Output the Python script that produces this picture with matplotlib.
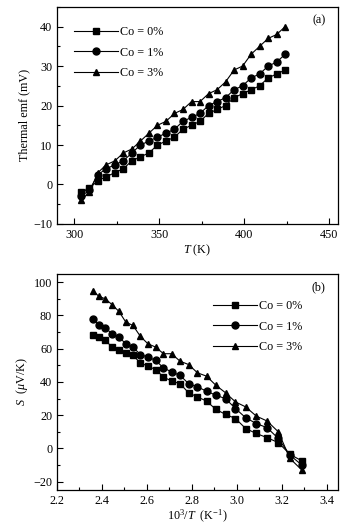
import matplotlib
matplotlib.use("Agg")
import matplotlib.pyplot as plt
from matplotlib.ticker import MultipleLocator

plt.rcParams['font.family'] = ['Liberation Serif', 'DejaVu Serif']
plt.rcParams['mathtext.fontset'] = 'custom'
plt.rcParams['mathtext.rm'] = 'Liberation Serif'
plt.rcParams['mathtext.it'] = 'Liberation Serif:italic'

# Temperatures (K)
T = [304, 309, 314, 319, 324, 329, 334, 339, 344, 349, 354, 359, 364,
     369, 374, 379, 384, 389, 394, 399, 404, 409, 414, 419, 424]

# (a) Thermal emf (mV)
emf_co0 = [-2, -1, 1, 2, 3, 4, 6, 7, 8, 10, 11, 12, 14, 15, 16, 18, 19, 20,
           22, 23, 24, 25, 27, 28, 29]
emf_co1 = [-3, -1.5, 2.5, 4, 5, 6, 8, 10, 11, 12, 13, 14, 16, 17, 18, 20, 21,
           22, 24, 25, 27, 28, 30, 31, 33]
emf_co3 = [-4, -2, 3, 5, 6, 8, 9, 11, 13, 15, 16, 18, 19, 21, 21, 23, 24, 26,
           29, 30, 33, 35, 37, 38, 40]

# (b) Seebeck coefficient S (uV/K), ordered from T=424 K down to T=304 K
T_desc = T[::-1]
S_co0 = [68, 67, 65, 61, 59.5, 57.5, 56, 51.5, 49.5, 47.5, 43, 40.5, 39, 33.5,
         31, 28.5, 23.5, 20.5, 18, 12, 9, 6.5, 3.5, -3.5, -7.5]
S_co1 = [78, 74.5, 72.5, 69, 67, 63, 61, 56.5, 55, 53, 48.5, 46, 44, 39, 37,
         34.5, 32, 30, 24, 18.5, 15, 12.5, 6, -4, -10]
S_co3 = [95, 91.5, 90, 86.5, 82.5, 76, 74, 67.5, 63, 61, 57, 57, 52.5, 50.5,
         45.5, 43.5, 38, 33.5, 28, 25, 19.5, 16.5, 10, -6, -13]

labels = ['Co = 0%', 'Co = 1%', 'Co = 3%']
markers = ['s', 'o', '^']

fig = plt.figure(figsize=(3.63, 5.27), dpi=100)
ax1 = fig.add_axes([0.157, 0.575, 0.774, 0.412])
ax2 = fig.add_axes([0.157, 0.0702, 0.774, 0.410])

fs = 8.7
for ys, m, lab in zip([emf_co0, emf_co1, emf_co3], markers, labels):
    ax1.plot(T, ys, color='black', marker=m, ms=5, lw=0.8, label=lab)

invT = [1000.0 / t for t in T_desc]
for ys, m, lab in zip([S_co0, S_co1, S_co3], markers, labels):
    ax2.plot(invT, ys, color='black', marker=m, ms=5, lw=0.8, label=lab)

ax1.set_xlim(290, 455)
ax1.set_ylim(-10, 45)
ax1.xaxis.set_major_locator(MultipleLocator(50))
ax1.xaxis.set_minor_locator(MultipleLocator(25))
ax1.yaxis.set_major_locator(MultipleLocator(10))
ax1.yaxis.set_minor_locator(MultipleLocator(5))
ax1.set_xlabel('$T$ (K)', fontsize=fs, labelpad=1)
ax1.set_ylabel('Thermal emf (mV)', fontsize=fs, labelpad=2)
ax1.text(0.955, 0.94, '(a)', transform=ax1.transAxes, ha='right', va='center', fontsize=fs)

ax2.set_xlim(2.2, 3.45)
ax2.set_ylim(-25, 105)
ax2.xaxis.set_major_locator(MultipleLocator(0.2))
ax2.xaxis.set_minor_locator(MultipleLocator(0.1))
ax2.yaxis.set_major_locator(MultipleLocator(20))
ax2.yaxis.set_minor_locator(MultipleLocator(10))
ax2.set_xlabel('10$^3$/$T$  (K$^{-1}$)', fontsize=fs, labelpad=1)
ax2.set_ylabel('$S$  ($\\mu$V/K)', fontsize=fs, labelpad=2)
ax2.text(0.955, 0.94, '(b)', transform=ax2.transAxes, ha='right', va='center', fontsize=fs)

for ax in (ax1, ax2):
    ax.tick_params(axis='both', which='both', direction='in', top=False, right=False,
                   labelsize=fs, width=0.8)
    ax.tick_params(which='major', length=4)
    ax.tick_params(which='minor', length=2.5)
    for s in ax.spines.values():
        s.set_linewidth(0.9)

ax1.legend(loc='upper left', bbox_to_anchor=(0.035, 0.945), frameon=False, fontsize=fs,
           handlelength=3.6, numpoints=1, labelspacing=0.7, handletextpad=0.2,
           borderaxespad=0.2)
ax2.legend(loc='upper left', bbox_to_anchor=(0.53, 0.912), frameon=False, fontsize=fs,
           handlelength=3.6, numpoints=1, labelspacing=0.7, handletextpad=0.2,
           borderaxespad=0.2)

fig.savefig('out.png', dpi=100)
